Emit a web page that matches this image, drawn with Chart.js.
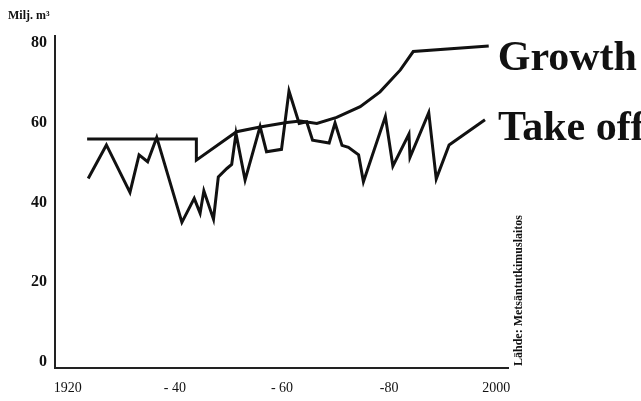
<!DOCTYPE html>
<html>
<head>
<meta charset="utf-8">
<script src="https://cdn.jsdelivr.net/npm/chart.js@4"></script>
<style>
  body { margin: 0; background: #fff; }
  #wrap { width: 641px; height: 401px; }
</style>
</head>
<body>
<div id="wrap"><canvas id="chart" width="641" height="401"></canvas></div>
<script>
// Hakkuut ja kasvu (milj. m3)
const growthYears = [1923.6, 1944.0, 1944.0, 1951.5, 1955.9, 1960.9, 1963.4, 1966.5, 1970.2, 1974.6, 1978.3, 1982.1, 1984.5, 1998.6];
const growthValues = [55.9, 55.9, 50.6, 57.7, 58.9, 60.0, 60.4, 59.8, 61.3, 64.0, 67.7, 73.2, 77.8, 79.2];

const takeoffYears = [1923.8, 1927.2, 1931.6, 1933.3, 1934.9, 1936.6, 1941.3, 1943.6, 1944.7, 1945.4, 1947.2, 1948.1, 1949.7, 1950.6, 1951.4, 1953.1, 1955.9, 1957.1, 1959.9, 1961.3, 1963.2, 1964.6, 1965.7, 1968.8, 1969.9, 1971.2, 1972.4, 1974.3, 1975.2, 1979.3, 1980.7, 1983.7, 1983.9, 1987.4, 1988.8, 1991.2, 1997.9];
const takeoffValues = [46.0, 54.4, 42.5, 51.9, 50.2, 56.3, 35.0, 41.0, 37.3, 42.9, 35.8, 46.4, 48.5, 49.5, 57.3, 45.6, 59.0, 52.7, 53.3, 67.9, 59.8, 60.2, 55.6, 54.9, 59.9, 54.3, 53.8, 51.9, 45.2, 61.5, 49.1, 57.1, 51.3, 62.5, 45.9, 54.4, 60.7];

const xTicks = [1920, 1940, 1960, 1980, 2000];
const xTickLabels = ['1920', '- 40', '- 60', '-80', '2000'];
const yTicks = [0, 20, 40, 60, 80];

const seriesNames = ['Growth', 'Take off'];

const toPoints = (xs, ys) => xs.map((x, i) => ({ x: x, y: ys[i] }));

// tekstit: sarjojen nimet, yksikkö ja lähde
const textPlugin = {
    id: 'texts',
    afterDraw(chart) {
        const ctx = chart.ctx;
        const area = chart.chartArea;
        ctx.save();
        ctx.fillStyle = '#111';

        // sarjojen nimet viivojen päihin
        ctx.font = 'bold 42px "Liberation Serif", serif';
        ctx.textAlign = 'left';
        ctx.textBaseline = 'alphabetic';
        chart.data.datasets.forEach((ds, i) => {
            const meta = chart.getDatasetMeta(i);
            const last = meta.data[meta.data.length - 1];
            ctx.fillText(ds.label, last.x + 9 + i * 4, last.y + 24 - i * 4);
        });

        ctx.font = 'bold 12px "Liberation Serif", serif';
        ctx.fillText('Milj. m³', 8, 19);

        // lähde pystysuunnassa
        ctx.font = 'bold 12px "Liberation Serif", serif';
        ctx.translate(area.right + 14, area.bottom - 2);
        ctx.rotate(-Math.PI / 2);
        ctx.fillText('Lähde: Metsäntutkimuslaitos', 0, 0);
        ctx.restore();
    }
};

new Chart(document.getElementById('chart'), {
    type: 'line',
    data: {
        datasets: [
            { label: seriesNames[0], data: toPoints(growthYears, growthValues), borderColor: '#111', borderWidth: 3, pointRadius: 0, tension: 0 },
            { label: seriesNames[1], data: toPoints(takeoffYears, takeoffValues), borderColor: '#111', borderWidth: 3, pointRadius: 0, tension: 0 }
        ]
    },
    options: {
        responsive: false,
        animation: false,
        devicePixelRatio: 1,
        layout: { padding: { top: 36, right: 133, left: 0, bottom: 0 } },
        plugins: { legend: { display: false }, tooltip: { enabled: false } },
        scales: {
            x: {
                type: 'linear',
                min: 1917.6, max: 2002.2,
                grid: { display: false, drawTicks: false },
                border: { color: '#222', width: 2 },
                afterBuildTicks: s => { s.ticks = xTicks.map(v => ({ value: v })); },
                afterFit: s => { s.height = 33; },
                ticks: {
                    color: '#111', padding: 12,
                    font: { family: '"Liberation Serif", serif', size: 14 },
                    maxRotation: 0,
                    callback: v => xTickLabels[xTicks.indexOf(v)]
                }
            },
            y: {
                min: -1.5, max: 81.7,
                grid: { display: false, drawTicks: false },
                border: { color: '#222', width: 2 },
                afterBuildTicks: s => { s.ticks = yTicks.map(v => ({ value: v })); },
                afterFit: s => { s.width = 55; },
                ticks: {
                    color: '#111', padding: 8,
                    font: { family: '"Liberation Serif", serif', size: 16, weight: 'bold' }
                }
            }
        }
    },
    plugins: [textPlugin]
});
</script>
</body>
</html>
